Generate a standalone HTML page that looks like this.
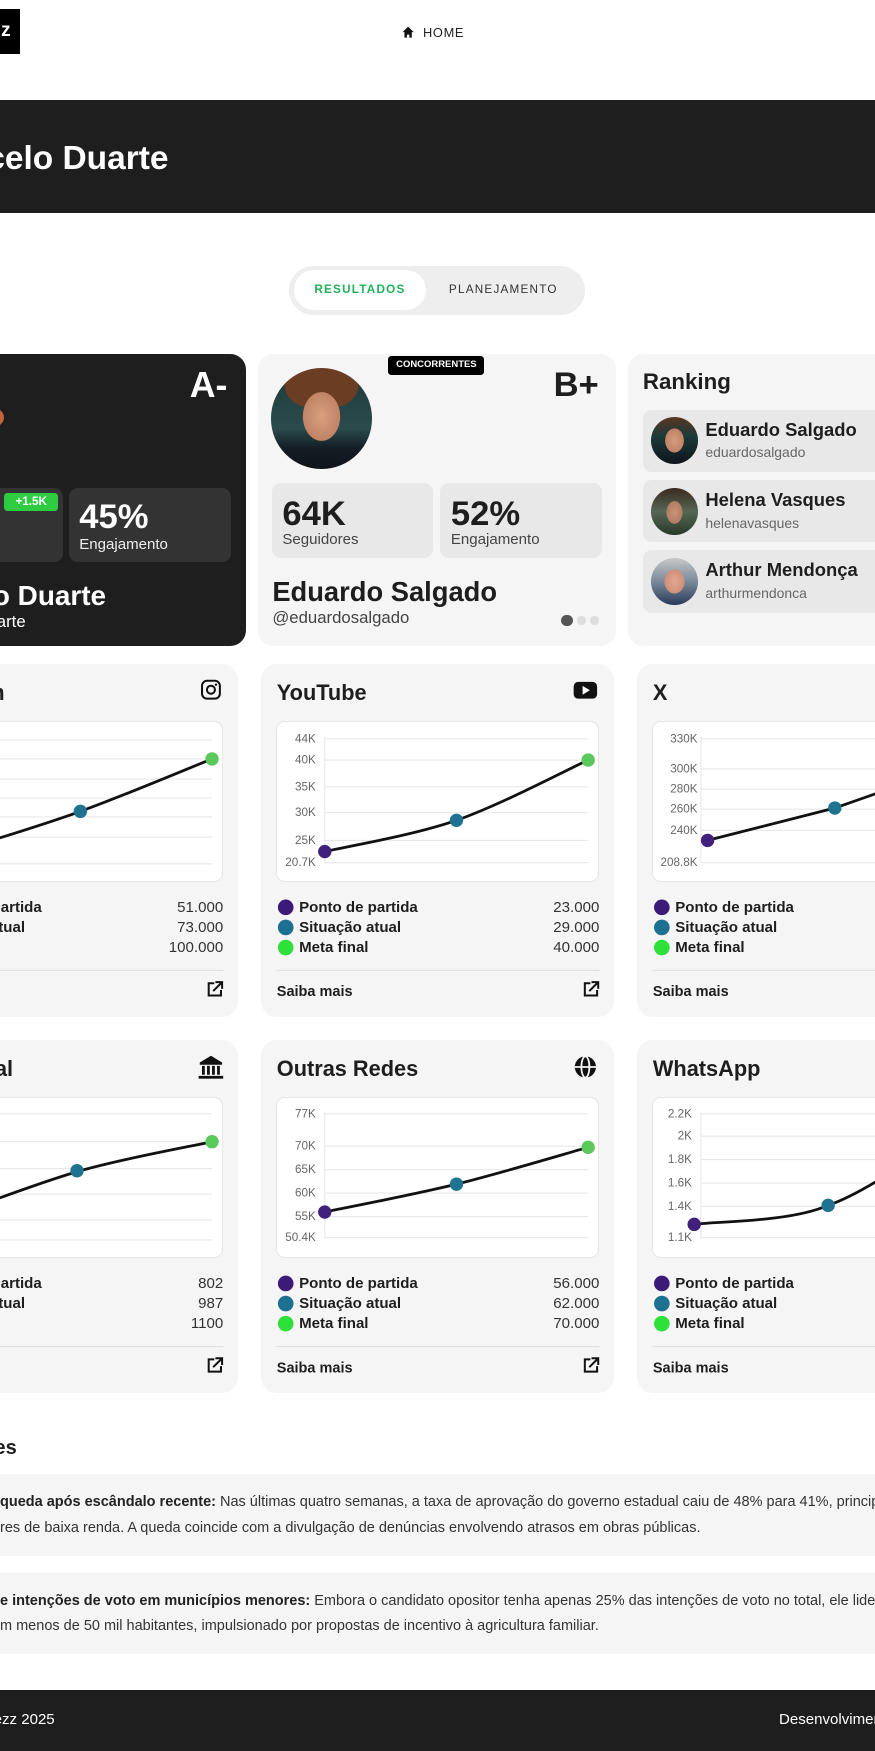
<!DOCTYPE html>
<html><head><meta charset="utf-8">
<style>
*{margin:0;padding:0;box-sizing:border-box}
html,body{width:875px;height:1751px;overflow:hidden;background:#fff}
#w{position:relative;width:784px;height:1569px;zoom:1.11607;overflow:hidden;font-family:"Liberation Sans",sans-serif;color:#1e1e1e}
.a{position:absolute;white-space:nowrap}
.card{position:absolute;background:#f5f5f5;border-radius:14px}
.box{position:absolute;background:#fff;border:1px solid #e6e6e6;border-radius:8px}
.b{font-weight:bold}
.r{text-align:right}
</style></head><body><div id="w">

<!-- header -->
<div class="a" style="left:-30px;top:8px;width:48px;height:40px;background:#000"></div>
<div class="a b" style="left:1px;top:19px;font-size:17px;color:#fff;line-height:18px">z</div>
<svg class="a" style="left:360px;top:23px" width="11" height="11" viewBox="0 0 10 10"><path d="M5 0.5L0.5 5H2V9.5H4V7H6V9.5H8V5H9.5Z" fill="#111"/></svg>
<div class="a" style="left:379px;top:22px;font-size:11.5px;letter-spacing:0.6px;line-height:14px;color:#222">HOME</div>

<!-- banner -->
<div class="a" style="left:0;top:90px;width:784px;height:101px;background:#1e1e1e"></div>
<div class="a b r" style="right:633px;top:125px;font-size:30px;line-height:34px;color:#fff">Marcelo Duarte</div>

<!-- toggle -->
<div class="a" style="left:259px;top:238px;width:265px;height:44px;background:#eee;border-radius:22px"></div>
<div class="a" style="left:263px;top:242px;width:119px;height:36px;background:#fff;border-radius:18px"></div>
<div class="a b" style="left:263px;top:254px;width:119px;text-align:center;font-size:10.5px;letter-spacing:1.1px;color:#1fb25a;line-height:13px">RESULTADOS</div>
<div class="a" style="left:386px;top:254px;width:130px;text-align:center;font-size:10.5px;letter-spacing:1.1px;color:#333;line-height:13px">PLANEJAMENTO</div>

<!-- card 1 dark -->
<div class="a" style="left:-120px;top:317px;width:340px;height:262px;background:#1e1e1e;border-radius:14px"></div>
<div class="a" style="left:-40px;top:362px;width:44px;height:24px;border-radius:50%;background:#c0643a"></div>
<div class="a b" style="left:170px;top:327px;width:44px;font-size:32px;line-height:36px;color:#fff">A-</div>
<div class="a" style="left:-90px;top:437px;width:146px;height:67px;background:#333;border-radius:8px"></div>
<div class="a b" style="left:4px;top:442px;width:48px;height:16px;background:#2ecc40;border-radius:3px;color:#fff;font-size:10.5px;text-align:center;line-height:16px">+1.5K</div>
<div class="a" style="left:62px;top:437px;width:145px;height:67px;background:#333;border-radius:8px"></div>
<div class="a b" style="left:71px;top:447px;font-size:31px;line-height:34px;color:#fff">45%</div>
<div class="a" style="left:71px;top:480px;font-size:13.5px;line-height:16px;color:#eee">Engajamento</div>
<div class="a b r" style="right:689px;top:519px;font-size:25px;line-height:30px;color:#fff">Marcelo Duarte</div>
<div class="a r" style="right:761px;top:548px;font-size:15px;line-height:18px;color:#fff">@marceloduarte</div>

<!-- card 2 -->
<div class="card" style="left:231px;top:317px;width:321px;height:262px"></div>
<div class="a" style="left:243px;top:330px;width:90px;height:90px;border-radius:50%;background:radial-gradient(ellipse 26% 34% at 50% 48%,#d9a07f 0%,#c08366 70%,transparent 72%),radial-gradient(ellipse 40% 26% at 50% 18%,#6b3d22 0%,#6b3d22 90%,transparent 92%),linear-gradient(#1d3a3a 0%,#2b4b4c 60%,#141c24 80%,#0f141a 100%)"></div>
<div class="a b" style="left:348px;top:319px;width:86px;height:17px;background:#000;border-radius:3px;color:#fff;font-size:8.5px;text-align:center;line-height:17px">CONCORRENTES</div>
<div class="a b" style="left:496px;top:327px;font-size:31px;line-height:36px">B+</div>
<div class="a" style="left:244px;top:433px;width:144px;height:67px;background:#e8e8e8;border-radius:8px"></div>
<div class="a" style="left:394px;top:433px;width:145px;height:67px;background:#e8e8e8;border-radius:8px"></div>
<div class="a b" style="left:253px;top:444px;font-size:31px;line-height:34px">64K</div>
<div class="a" style="left:253px;top:476px;font-size:13.5px;line-height:16px;color:#444">Seguidores</div>
<div class="a b" style="left:404px;top:444px;font-size:31px;line-height:34px">52%</div>
<div class="a" style="left:404px;top:476px;font-size:13.5px;line-height:16px;color:#444">Engajamento</div>
<div class="a b" style="left:244px;top:515px;font-size:24.5px;line-height:30px">Eduardo Salgado</div>
<div class="a" style="left:244px;top:545px;font-size:15px;line-height:18px;color:#444">@eduardosalgado</div>
<div class="a" style="left:503px;top:551px;width:10px;height:10px;border-radius:50%;background:#555"></div>
<div class="a" style="left:517px;top:552px;width:8px;height:8px;border-radius:50%;background:#ddd"></div>
<div class="a" style="left:529px;top:552px;width:8px;height:8px;border-radius:50%;background:#ddd"></div>

<!-- ranking -->
<div class="card" style="left:563px;top:317px;width:260px;height:262px"></div>
<div class="a b" style="left:576px;top:331px;font-size:20px;line-height:24px">Ranking</div>
<div class="a" style="left:576px;top:367px;width:230px;height:56px;background:#e8e8e8;border-radius:8px"></div>
<div class="a" style="left:576px;top:430px;width:230px;height:56px;background:#e8e8e8;border-radius:8px"></div>
<div class="a" style="left:576px;top:493px;width:230px;height:56px;background:#e8e8e8;border-radius:8px"></div>
<div class="a" style="left:583px;top:374px;width:42px;height:42px;border-radius:50%;background:radial-gradient(ellipse 28% 36% at 50% 50%,#d39c7c 0%,#c08366 70%,transparent 72%),linear-gradient(#5a3520 0%,#1d3a3a 40%,#0f141a 100%)"></div>
<div class="a" style="left:583px;top:437px;width:42px;height:42px;border-radius:50%;background:radial-gradient(ellipse 24% 34% at 50% 52%,#c99478 0%,#b07b60 70%,transparent 72%),linear-gradient(#3a2a1e 0%,#556655 50%,#2a3a2a 100%)"></div>
<div class="a" style="left:583px;top:500px;width:42px;height:42px;border-radius:50%;background:radial-gradient(ellipse 30% 36% at 50% 50%,#e0a890 0%,#d09078 70%,transparent 72%),linear-gradient(#c8c8c8 0%,#7a8a9a 50%,#2a3a5a 100%)"></div>
<div class="a b" style="left:632px;top:375px;font-size:16.5px;line-height:20px">Eduardo Salgado</div>
<div class="a" style="left:632px;top:398px;font-size:12.5px;line-height:15px;color:#666">eduardosalgado</div>
<div class="a b" style="left:632px;top:438px;font-size:16.5px;line-height:20px">Helena Vasques</div>
<div class="a" style="left:632px;top:461px;font-size:12.5px;line-height:15px;color:#666">helenavasques</div>
<div class="a b" style="left:632px;top:501px;font-size:16.5px;line-height:20px">Arthur Mendonça</div>
<div class="a" style="left:632px;top:524px;font-size:12.5px;line-height:15px;color:#666">arthurmendonca</div>

<!-- chart cards row 1 -->
<div class="card" style="left:-103px;top:595px;width:316px;height:316px"></div>
<div class="card" style="left:234px;top:595px;width:316px;height:316px"></div>
<div class="card" style="left:571px;top:595px;width:316px;height:316px"></div>
<div class="box" style="left:-90px;top:646px;width:290px;height:144px"></div>
<div class="box" style="left:247px;top:646px;width:290px;height:144px"></div>
<div class="box" style="left:584px;top:646px;width:290px;height:144px"></div>
<!-- row 2 -->
<div class="card" style="left:-103px;top:932px;width:316px;height:316px"></div>
<div class="card" style="left:234px;top:932px;width:316px;height:316px"></div>
<div class="card" style="left:571px;top:932px;width:316px;height:316px"></div>
<div class="box" style="left:-90px;top:983px;width:290px;height:144px"></div>
<div class="box" style="left:247px;top:983px;width:290px;height:144px"></div>
<div class="box" style="left:584px;top:983px;width:290px;height:144px"></div>

<!-- titles -->
<div class="a b" style="left:-89px;top:609px;font-size:19.5px;line-height:24px">Instagram</div>
<div class="a b" style="left:248px;top:609px;font-size:19.5px;line-height:24px">YouTube</div>
<div class="a b" style="left:585px;top:609px;font-size:19.5px;line-height:24px">X</div>
<div class="a b" style="left:-89px;top:946px;font-size:19.5px;line-height:24px">Site Oficial</div>
<div class="a b" style="left:248px;top:946px;font-size:19.5px;line-height:24px">Outras Redes</div>
<div class="a b" style="left:585px;top:946px;font-size:19.5px;line-height:24px">WhatsApp</div>

<svg class="a" style="left:0;top:0" width="784" height="1569" font-family="Liberation Sans, sans-serif">
<!-- icons -->
<g fill="none" stroke="#111" stroke-width="1.8"><rect x="181" y="610" width="16" height="16" rx="4.5"/><circle cx="189" cy="618" r="3.6"/></g><circle cx="193.5" cy="613.5" r="1.1" fill="#111"/>
<rect x="514" y="611" width="21" height="15" rx="4" fill="#111"/><path d="M522 614.5V622.5L528.5 618.5Z" fill="#fff"/>
<g fill="#111"><path d="M179 952L189 946L199 952V954H179Z"/><rect x="181" y="955" width="2.5" height="8"/><rect x="185.5" y="955" width="2.5" height="8"/><rect x="190" y="955" width="2.5" height="8"/><rect x="194.5" y="955" width="2.5" height="8"/><rect x="178" y="964" width="22" height="2.5"/></g>
<g><circle cx="524.5" cy="956" r="9.5" fill="#111"/><g stroke="#f5f5f5" stroke-width="1.6" fill="none"><ellipse cx="524.5" cy="956" rx="3.6" ry="9.5"/><line x1="515" y1="956" x2="534" y2="956"/></g></g>
<g fill="none" stroke="#111" stroke-width="1.8"><path d="M192 881H187V892H198V887"/><path d="M193 880H199V886M199 880L191 888"/><path d="M529 881H524V892H535V887"/><path d="M530 880H536V886M536 880L528 888"/><path d="M192 1218H187V1229H198V1224"/><path d="M193 1217H199V1223M199 1217L191 1225"/><path d="M529 1218H524V1229H535V1224"/><path d="M530 1217H536V1223M536 1217L528 1225"/></g>

<!-- gridlines -->
<g stroke="#e8e8e8" stroke-width="1">
<path d="M-46 663H190M-46 680H190M-46 698H190M-46 715H190M-46 732H190M-46 750H190M-46 774H190"/>
<path d="M291 662H527M291 681H527M291 705H527M291 728H527M291 753H527M291 773H527M291 660V773"/>
<path d="M628 662H864M628 689H864M628 707H864M628 725H864M628 744H864M628 773H864M628 660V773"/>
<path d="M-46 998H190M-46 1023H190M-46 1047H190M-46 1070H190M-46 1093H190M-46 1111H190"/>
<path d="M291 998H527M291 1027H527M291 1048H527M291 1069H527M291 1090H527M291 1109H527M291 996V1109"/>
<path d="M628 998H864M628 1018H864M628 1039H864M628 1060H864M628 1081H864M628 1109H864M628 996V1109"/>
</g>
<!-- tick labels -->
<g font-size="10.5" fill="#666" text-anchor="end" dominant-baseline="central">
<text x="283" y="662">44K</text><text x="283" y="681">40K</text><text x="283" y="705">35K</text><text x="283" y="728">30K</text><text x="283" y="753">25K</text><text x="283" y="773">20.7K</text>
<text x="625" y="662">330K</text><text x="625" y="689">300K</text><text x="625" y="707">280K</text><text x="625" y="725">260K</text><text x="625" y="744">240K</text><text x="625" y="773">208.8K</text>
<text x="283" y="998">77K</text><text x="283" y="1027">70K</text><text x="283" y="1048">65K</text><text x="283" y="1069">60K</text><text x="283" y="1090">55K</text><text x="283" y="1109">50.4K</text>
<text x="620" y="998">2.2K</text><text x="620" y="1018">2K</text><text x="620" y="1039">1.8K</text><text x="620" y="1060">1.6K</text><text x="620" y="1081">1.4K</text><text x="620" y="1109">1.1K</text>
</g>
<!-- lines -->
<g fill="none" stroke="#111" stroke-width="2.5" stroke-linecap="round">
<path d="M-46 765C-26.3 758.7 32.7 741.2 72 727C111.3 712.8 170.3 687.8 190 680"/>
<path d="M291 763C310.7 758.3 369.7 748.7 409 735C448.3 721.3 507.3 690 527 681"/>
<path d="M634 753L748 724L862 684"/>
<path d="M-46 1090C-26.3 1083.2 32.7 1060.2 72 1049C111.3 1037.8 170.3 1027.3 190 1023"/>
<path d="M291 1086C310.7 1081.8 369.7 1070.7 409 1061C448.3 1051.3 507.3 1033.5 527 1028"/>
<path d="M622 1097C641.7 1094.2 706.7 1095.3 742 1080C785.3 1064.7 844.3 1017.5 864 1005"/>
</g>
<!-- points -->
<g>
<circle cx="72" cy="727" r="6" fill="#1f7391"/><circle cx="190" cy="680" r="6" fill="#5ac85a"/>
<circle cx="291" cy="763" r="6" fill="#40207a"/><circle cx="409" cy="735" r="6" fill="#1f7391"/><circle cx="527" cy="681" r="6" fill="#5ac85a"/>
<circle cx="634" cy="753" r="6" fill="#40207a"/><circle cx="748" cy="724" r="6" fill="#1f7391"/>
<circle cx="69" cy="1049" r="6" fill="#1f7391"/><circle cx="190" cy="1023" r="6" fill="#5ac85a"/>
<circle cx="291" cy="1086" r="6" fill="#40207a"/><circle cx="409" cy="1061" r="6" fill="#1f7391"/><circle cx="527" cy="1028" r="6" fill="#5ac85a"/>
<circle cx="622" cy="1097" r="6" fill="#40207a"/><circle cx="742" cy="1080" r="6" fill="#1f7391"/>
</g>
<!-- legend dots -->
<g>
<circle cx="-81" cy="813" r="7" fill="#3b1a78"/><circle cx="-81" cy="831" r="7" fill="#1e7093"/><circle cx="-81" cy="849" r="7" fill="#2ee03a"/>
<circle cx="256" cy="813" r="7" fill="#3b1a78"/><circle cx="256" cy="831" r="7" fill="#1e7093"/><circle cx="256" cy="849" r="7" fill="#2ee03a"/>
<circle cx="593" cy="813" r="7" fill="#3b1a78"/><circle cx="593" cy="831" r="7" fill="#1e7093"/><circle cx="593" cy="849" r="7" fill="#2ee03a"/>
<circle cx="256" cy="1150" r="7" fill="#3b1a78"/><circle cx="256" cy="1168" r="7" fill="#1e7093"/><circle cx="256" cy="1186" r="7" fill="#2ee03a"/>
<circle cx="593" cy="1150" r="7" fill="#3b1a78"/><circle cx="593" cy="1168" r="7" fill="#1e7093"/><circle cx="593" cy="1186" r="7" fill="#2ee03a"/>
</g>
<!-- dividers -->
<g stroke="#e2e2e2" stroke-width="1"><path d="M-90 869.5H200M247 869.5H537M584 869.5H874M-90 1206.5H200M247 1206.5H537M584 1206.5H874"/></g>
<!-- legend text -->
<g font-size="13.5" font-weight="bold" fill="#1e1e1e" dominant-baseline="central">
<text x="-69" y="813" text-anchor="start">Ponto de partida</text><text x="-69" y="831">Situação atual</text><text x="-69" y="849">Meta final</text>
<text x="268" y="813">Ponto de partida</text><text x="268" y="831">Situação atual</text><text x="268" y="849">Meta final</text>
<text x="605" y="813">Ponto de partida</text><text x="605" y="831">Situação atual</text><text x="605" y="849">Meta final</text>
<text x="-69" y="1150">Ponto de partida</text><text x="-69" y="1168">Situação atual</text><text x="-69" y="1186">Meta final</text>
<text x="268" y="1150">Ponto de partida</text><text x="268" y="1168">Situação atual</text><text x="268" y="1186">Meta final</text>
<text x="605" y="1150">Ponto de partida</text><text x="605" y="1168">Situação atual</text><text x="605" y="1186">Meta final</text>
<text x="-89" y="889" font-size="13">Saiba mais</text><text x="248" y="889" font-size="13">Saiba mais</text><text x="585" y="889" font-size="13">Saiba mais</text>
<text x="-89" y="1226" font-size="13">Saiba mais</text><text x="248" y="1226" font-size="13">Saiba mais</text><text x="585" y="1226" font-size="13">Saiba mais</text>
</g>
<g font-size="13.5" fill="#333" text-anchor="end" dominant-baseline="central">
<text x="200" y="813">51.000</text><text x="200" y="831">73.000</text><text x="200" y="849">100.000</text>
<text x="537" y="813">23.000</text><text x="537" y="831">29.000</text><text x="537" y="849">40.000</text>
<text x="200" y="1150">802</text><text x="200" y="1168">987</text><text x="200" y="1186">1100</text>
<text x="537" y="1150">56.000</text><text x="537" y="1168">62.000</text><text x="537" y="1186">70.000</text>
</g>
</svg>

<!-- notes -->
<div class="a b r" style="right:769px;top:1287px;font-size:18px;line-height:22px">Análises recentes</div>
<div class="a" style="left:-20px;top:1321px;width:830px;height:73px;background:#f5f5f5"></div>
<div class="a" style="left:-20px;top:1409px;width:830px;height:73px;background:#f5f5f5"></div>
<div class="a" style="left:0;top:1339px;font-size:13px;line-height:16px;color:#333"><b style="color:#222">queda após escândalo recente:</b> Nas últimas quatro semanas, a taxa de aprovação do governo estadual caiu de 48% para 41%, principalmente</div>
<div class="a" style="left:0;top:1362px;font-size:13px;line-height:16px;color:#333">res de baixa renda. A queda coincide com a divulgação de denúncias envolvendo atrasos em obras públicas.</div>
<div class="a" style="left:0;top:1427px;font-size:13px;line-height:16px;color:#333"><b style="color:#222">e intenções de voto em municípios menores:</b> Embora o candidato opositor tenha apenas 25% das intenções de voto no total, ele lidera</div>
<div class="a" style="left:0;top:1450px;font-size:13px;line-height:16px;color:#333">m menos de 50 mil habitantes, impulsionado por propostas de incentivo à agricultura familiar.</div>

<!-- footer -->
<div class="a" style="left:0;top:1514px;width:784px;height:55px;background:#1e1e1e"></div>
<div class="a r" style="right:735px;top:1533px;font-size:13.5px;line-height:16px;color:#fff">© Indezz 2025</div>
<div class="a" style="left:698px;top:1533px;font-size:13.5px;line-height:16px;color:#fff">Desenvolvimento</div>

</div></body></html>
